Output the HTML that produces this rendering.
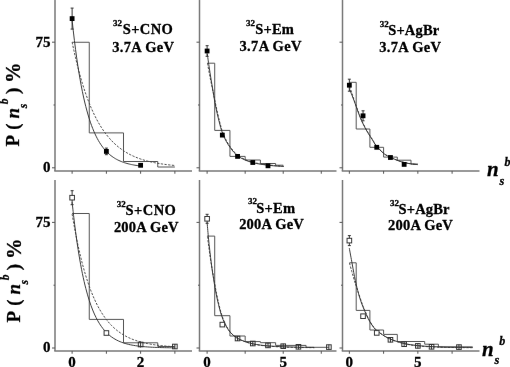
<!DOCTYPE html>
<html><head><meta charset="utf-8"><style>
html,body{margin:0;padding:0;background:#fff;width:510px;height:367px;overflow:hidden;}
svg{display:block;}
text{stroke:#000;stroke-width:0.3px;}
</style></head><body><svg width="510" height="367" viewBox="0 0 510 367"><defs><filter id="bl" filterUnits="userSpaceOnUse" x="0" y="0" width="510" height="367"><feConvolveMatrix order="3" kernelMatrix="0.00027 0.01580 0.00027 0.01580 0.93575 0.01580 0.00027 0.01580 0.00027" divisor="1" edgeMode="none"/></filter></defs><g filter="url(#bl)"><line x1="55.00" y1="0.00" x2="55.00" y2="170.95" stroke="#787878" stroke-width="1.5" /><line x1="54.25" y1="170.95" x2="192.00" y2="170.95" stroke="#787878" stroke-width="1.5" /><line x1="52.00" y1="167.80" x2="55.00" y2="167.80" stroke="#555" stroke-width="1.0" /><line x1="52.00" y1="42.18" x2="55.00" y2="42.18" stroke="#555" stroke-width="1.0" /><line x1="53.50" y1="104.99" x2="55.00" y2="104.99" stroke="#555" stroke-width="1.0" /><line x1="72.12" y1="170.95" x2="72.12" y2="173.75" stroke="#555" stroke-width="1.0" /><line x1="106.38" y1="170.95" x2="106.38" y2="173.75" stroke="#555" stroke-width="1.0" /><line x1="140.62" y1="170.95" x2="140.62" y2="173.75" stroke="#555" stroke-width="1.0" /><line x1="174.88" y1="170.95" x2="174.88" y2="173.75" stroke="#555" stroke-width="1.0" /><line x1="199.50" y1="0.00" x2="199.50" y2="170.95" stroke="#787878" stroke-width="1.5" /><line x1="198.75" y1="170.95" x2="336.50" y2="170.95" stroke="#787878" stroke-width="1.5" /><line x1="196.50" y1="167.80" x2="199.50" y2="167.80" stroke="#555" stroke-width="1.0" /><line x1="196.50" y1="42.18" x2="199.50" y2="42.18" stroke="#555" stroke-width="1.0" /><line x1="198.00" y1="104.99" x2="199.50" y2="104.99" stroke="#555" stroke-width="1.0" /><line x1="207.11" y1="170.95" x2="207.11" y2="173.75" stroke="#555" stroke-width="1.0" /><line x1="245.17" y1="170.95" x2="245.17" y2="173.75" stroke="#555" stroke-width="1.0" /><line x1="283.22" y1="170.95" x2="283.22" y2="173.75" stroke="#555" stroke-width="1.0" /><line x1="321.28" y1="170.95" x2="321.28" y2="173.75" stroke="#555" stroke-width="1.0" /><line x1="342.50" y1="0.00" x2="342.50" y2="170.95" stroke="#787878" stroke-width="1.5" /><line x1="341.75" y1="170.95" x2="479.50" y2="170.95" stroke="#787878" stroke-width="1.5" /><line x1="339.50" y1="167.80" x2="342.50" y2="167.80" stroke="#555" stroke-width="1.0" /><line x1="339.50" y1="42.18" x2="342.50" y2="42.18" stroke="#555" stroke-width="1.0" /><line x1="341.00" y1="104.99" x2="342.50" y2="104.99" stroke="#555" stroke-width="1.0" /><line x1="349.35" y1="170.95" x2="349.35" y2="173.75" stroke="#555" stroke-width="1.0" /><line x1="383.60" y1="170.95" x2="383.60" y2="173.75" stroke="#555" stroke-width="1.0" /><line x1="417.85" y1="170.95" x2="417.85" y2="173.75" stroke="#555" stroke-width="1.0" /><line x1="452.10" y1="170.95" x2="452.10" y2="173.75" stroke="#555" stroke-width="1.0" /><line x1="55.00" y1="180.00" x2="55.00" y2="350.95" stroke="#787878" stroke-width="1.5" /><line x1="54.25" y1="350.95" x2="192.00" y2="350.95" stroke="#787878" stroke-width="1.5" /><line x1="52.00" y1="348.00" x2="55.00" y2="348.00" stroke="#555" stroke-width="1.0" /><line x1="52.00" y1="222.38" x2="55.00" y2="222.38" stroke="#555" stroke-width="1.0" /><line x1="53.50" y1="285.19" x2="55.00" y2="285.19" stroke="#555" stroke-width="1.0" /><line x1="72.12" y1="350.95" x2="72.12" y2="353.75" stroke="#555" stroke-width="1.0" /><line x1="106.38" y1="350.95" x2="106.38" y2="353.75" stroke="#555" stroke-width="1.0" /><line x1="140.62" y1="350.95" x2="140.62" y2="353.75" stroke="#555" stroke-width="1.0" /><line x1="174.88" y1="350.95" x2="174.88" y2="353.75" stroke="#555" stroke-width="1.0" /><line x1="199.50" y1="180.00" x2="199.50" y2="350.95" stroke="#787878" stroke-width="1.5" /><line x1="198.75" y1="350.95" x2="336.50" y2="350.95" stroke="#787878" stroke-width="1.5" /><line x1="196.50" y1="348.00" x2="199.50" y2="348.00" stroke="#555" stroke-width="1.0" /><line x1="196.50" y1="222.38" x2="199.50" y2="222.38" stroke="#555" stroke-width="1.0" /><line x1="198.00" y1="285.19" x2="199.50" y2="285.19" stroke="#555" stroke-width="1.0" /><line x1="207.11" y1="350.95" x2="207.11" y2="353.75" stroke="#555" stroke-width="1.0" /><line x1="245.17" y1="350.95" x2="245.17" y2="353.75" stroke="#555" stroke-width="1.0" /><line x1="283.22" y1="350.95" x2="283.22" y2="353.75" stroke="#555" stroke-width="1.0" /><line x1="321.28" y1="350.95" x2="321.28" y2="353.75" stroke="#555" stroke-width="1.0" /><line x1="342.50" y1="180.00" x2="342.50" y2="350.95" stroke="#787878" stroke-width="1.5" /><line x1="341.75" y1="350.95" x2="479.50" y2="350.95" stroke="#787878" stroke-width="1.5" /><line x1="339.50" y1="348.00" x2="342.50" y2="348.00" stroke="#555" stroke-width="1.0" /><line x1="339.50" y1="222.38" x2="342.50" y2="222.38" stroke="#555" stroke-width="1.0" /><line x1="341.00" y1="285.19" x2="342.50" y2="285.19" stroke="#555" stroke-width="1.0" /><line x1="349.35" y1="350.95" x2="349.35" y2="353.75" stroke="#555" stroke-width="1.0" /><line x1="383.60" y1="350.95" x2="383.60" y2="353.75" stroke="#555" stroke-width="1.0" /><line x1="417.85" y1="350.95" x2="417.85" y2="353.75" stroke="#555" stroke-width="1.0" /><line x1="452.10" y1="350.95" x2="452.10" y2="353.75" stroke="#555" stroke-width="1.0" /><path d="M72.12,42.25 L89.25,42.25 L89.25,132.90 L123.50,132.90 L123.50,161.50 L157.75,161.50 L157.75,167.00 L174.88,167.00" fill="none" stroke="#555" stroke-width="1.0"/><path d="M72.12,42.18 C72.41,43.52 73.27,47.65 73.84,50.26 C74.41,52.86 74.98,55.38 75.55,57.82 C76.12,60.26 76.69,62.61 77.26,64.90 C77.83,67.18 78.40,69.38 78.97,71.52 C79.55,73.65 80.12,75.71 80.69,77.71 C81.26,79.71 81.83,81.64 82.40,83.51 C82.97,85.38 83.54,87.18 84.11,88.93 C84.68,90.68 85.25,92.37 85.83,94.00 C86.40,95.64 86.97,97.22 87.54,98.75 C88.11,100.28 88.68,101.76 89.25,103.19 C89.82,104.63 90.39,106.01 90.96,107.35 C91.53,108.69 92.10,109.99 92.68,111.24 C93.25,112.49 93.82,113.70 94.39,114.88 C94.96,116.05 95.53,117.19 96.10,118.28 C96.67,119.38 97.24,120.44 97.81,121.47 C98.38,122.50 98.95,123.49 99.53,124.45 C100.10,125.41 100.67,126.34 101.24,127.24 C101.81,128.14 102.38,129.01 102.95,129.85 C103.52,130.69 104.09,131.50 104.66,132.29 C105.23,133.08 105.80,133.84 106.38,134.58 C106.95,135.31 107.52,136.02 108.09,136.71 C108.66,137.40 109.23,138.07 109.80,138.71 C110.37,139.36 110.94,139.98 111.51,140.58 C112.08,141.19 112.65,141.77 113.22,142.34 C113.80,142.90 114.37,143.44 114.94,143.97 C115.51,144.50 116.08,145.01 116.65,145.51 C117.22,146.00 117.79,146.48 118.36,146.94 C118.93,147.40 119.50,147.85 120.08,148.28 C120.65,148.72 121.22,149.13 121.79,149.54 C122.36,149.94 122.93,150.33 123.50,150.71 C124.07,151.09 124.64,151.46 125.21,151.81 C125.78,152.17 126.35,152.51 126.92,152.84 C127.50,153.17 128.07,153.49 128.64,153.80 C129.21,154.11 129.78,154.41 130.35,154.70 C130.92,154.99 131.49,155.27 132.06,155.55 C132.63,155.82 133.20,156.08 133.77,156.33 C134.35,156.59 134.92,156.83 135.49,157.07 C136.06,157.31 136.63,157.54 137.20,157.76 C137.77,157.99 138.34,158.20 138.91,158.41 C139.48,158.62 140.05,158.82 140.62,159.01 C141.20,159.21 141.77,159.40 142.34,159.58 C142.91,159.76 143.48,159.94 144.05,160.11 C144.62,160.28 145.19,160.44 145.76,160.60 C146.33,160.76 146.90,160.92 147.48,161.07 C148.05,161.21 148.62,161.36 149.19,161.50 C149.76,161.64 150.33,161.77 150.90,161.90 C151.47,162.03 152.04,162.16 152.61,162.28 C153.18,162.41 153.75,162.52 154.32,162.64 C154.90,162.75 155.47,162.86 156.04,162.97 C156.61,163.08 157.18,163.18 157.75,163.28 C158.32,163.38 158.89,163.48 159.46,163.57 C160.03,163.67 160.60,163.76 161.18,163.84 C161.75,163.93 162.32,164.02 162.89,164.10 C163.46,164.18 164.03,164.26 164.60,164.34 C165.17,164.41 165.74,164.49 166.31,164.56 C166.88,164.63 167.45,164.70 168.02,164.77 C168.60,164.84 169.17,164.90 169.74,164.96 C170.31,165.03 170.88,165.09 171.45,165.15 C172.02,165.20 172.59,165.26 173.16,165.32 C173.73,165.37 174.59,165.45 174.88,165.48" fill="none" stroke="#444" stroke-width="0.95" stroke-dasharray="2.3,1.4"/><path d="M72.12,20.40 C72.32,22.14 72.89,27.47 73.27,30.82 C73.65,34.17 74.03,37.39 74.41,40.51 C74.79,43.62 75.17,46.61 75.55,49.51 C75.93,52.40 76.31,55.18 76.69,57.87 C77.07,60.56 77.45,63.15 77.83,65.65 C78.21,68.15 78.59,70.55 78.97,72.87 C79.36,75.19 79.74,77.42 80.12,79.58 C80.50,81.74 80.88,83.81 81.26,85.82 C81.64,87.83 82.02,89.75 82.40,91.62 C82.78,93.48 83.16,95.27 83.54,97.00 C83.92,98.74 84.30,100.40 84.68,102.01 C85.06,103.62 85.44,105.17 85.83,106.66 C86.21,108.16 86.59,109.59 86.97,110.98 C87.35,112.37 87.73,113.71 88.11,115.00 C88.49,116.29 88.87,117.53 89.25,118.73 C89.63,119.94 90.01,121.09 90.39,122.20 C90.77,123.32 91.15,124.39 91.53,125.43 C91.91,126.46 92.29,127.46 92.68,128.42 C93.06,129.39 93.44,130.31 93.82,131.21 C94.20,132.10 94.58,132.96 94.96,133.80 C95.34,134.63 95.72,135.43 96.10,136.20 C96.48,136.97 96.86,137.72 97.24,138.43 C97.62,139.15 98.00,139.84 98.38,140.51 C98.76,141.18 99.14,141.82 99.53,142.44 C99.91,143.06 100.29,143.66 100.67,144.23 C101.05,144.81 101.43,145.36 101.81,145.90 C102.19,146.44 102.57,146.95 102.95,147.45 C103.33,147.95 103.71,148.42 104.09,148.89 C104.47,149.35 104.85,149.79 105.23,150.22 C105.61,150.65 105.99,151.07 106.38,151.47 C106.76,151.87 107.14,152.25 107.52,152.62 C107.90,152.99 108.28,153.35 108.66,153.70 C109.04,154.04 109.42,154.37 109.80,154.69 C110.18,155.01 110.56,155.32 110.94,155.62 C111.32,155.92 111.70,156.20 112.08,156.48 C112.46,156.76 112.84,157.02 113.22,157.28 C113.61,157.54 113.99,157.79 114.37,158.03 C114.75,158.26 115.13,158.49 115.51,158.72 C115.89,158.94 116.27,159.15 116.65,159.36 C117.03,159.57 117.41,159.76 117.79,159.96 C118.17,160.15 118.55,160.33 118.93,160.51 C119.31,160.69 119.69,160.86 120.08,161.03 C120.46,161.19 120.84,161.35 121.22,161.50 C121.60,161.66 121.98,161.81 122.36,161.95 C122.74,162.09 123.12,162.23 123.50,162.36 C123.88,162.50 124.26,162.62 124.64,162.75 C125.02,162.87 125.40,162.99 125.78,163.11 C126.16,163.22 126.54,163.33 126.92,163.44 C127.31,163.54 127.69,163.65 128.07,163.75 C128.45,163.84 128.83,163.94 129.21,164.03 C129.59,164.12 129.97,164.21 130.35,164.30 C130.73,164.38 131.11,164.47 131.49,164.55 C131.87,164.63 132.25,164.70 132.63,164.78 C133.01,164.85 133.39,164.92 133.77,164.99 C134.16,165.06 134.54,165.12 134.92,165.19 C135.30,165.25 135.68,165.31 136.06,165.37 C136.44,165.43 136.82,165.49 137.20,165.54 C137.58,165.60 137.96,165.65 138.34,165.70 C138.72,165.76 139.10,165.80 139.48,165.85 C139.86,165.90 140.43,165.97 140.62,165.99" fill="none" stroke="#333" stroke-width="0.95"/><line x1="72.12" y1="8.10" x2="72.12" y2="29.10" stroke="#333" stroke-width="1.0" /><line x1="70.62" y1="8.10" x2="73.62" y2="8.10" stroke="#333" stroke-width="1.0" /><line x1="70.62" y1="29.10" x2="73.62" y2="29.10" stroke="#333" stroke-width="1.0" /><rect x="69.72" y="16.20" width="4.8" height="4.8" fill="#000"/><line x1="106.38" y1="148.10" x2="106.38" y2="154.70" stroke="#333" stroke-width="1.0" /><line x1="104.88" y1="148.10" x2="107.88" y2="148.10" stroke="#333" stroke-width="1.0" /><line x1="104.88" y1="154.70" x2="107.88" y2="154.70" stroke="#333" stroke-width="1.0" /><rect x="103.97" y="149.00" width="4.8" height="4.8" fill="#000"/><rect x="138.22" y="162.90" width="4.8" height="4.8" fill="#000"/><path d="M207.11,63.20 L214.72,63.20 L214.72,130.40 L229.94,130.40 L229.94,156.40 L245.17,156.40 L245.17,160.00 L260.39,160.00 L260.39,163.50 L275.61,163.50 L275.61,165.20 L283.22,165.20" fill="none" stroke="#555" stroke-width="1.0"/><path d="M207.50,63.30 C207.92,65.58 209.17,72.72 210.00,77.00 C210.83,81.28 211.67,85.00 212.50,89.00 C213.33,93.00 214.15,96.97 215.00,101.00 C215.85,105.03 216.78,109.58 217.60,113.20 C218.42,116.82 219.10,119.65 219.90,122.70 C220.70,125.75 221.30,128.48 222.40,131.50 C223.50,134.52 224.98,137.97 226.50,140.80 C228.02,143.63 229.68,146.12 231.50,148.50 C233.32,150.88 235.08,153.23 237.40,155.10 C239.72,156.97 242.73,158.48 245.40,159.70 C248.07,160.92 250.82,161.70 253.40,162.40 C255.98,163.10 258.33,163.47 260.90,163.90 C263.47,164.33 266.22,164.70 268.80,165.00 C271.38,165.30 273.87,165.50 276.40,165.70 C278.93,165.90 282.73,166.12 284.00,166.20" fill="none" stroke="#444" stroke-width="0.95" stroke-dasharray="2.3,1.4"/><path d="M207.30,54.00 C207.58,56.00 208.38,61.83 209.00,66.00 C209.62,70.17 210.33,74.83 211.00,79.00 C211.67,83.17 212.33,87.00 213.00,91.00 C213.67,95.00 214.30,99.25 215.00,103.00 C215.70,106.75 216.45,110.17 217.20,113.50 C217.95,116.83 218.70,119.95 219.50,123.00 C220.30,126.05 220.90,128.78 222.00,131.80 C223.10,134.82 224.58,138.27 226.10,141.10 C227.62,143.93 229.28,146.42 231.10,148.80 C232.92,151.18 234.68,153.53 237.00,155.40 C239.32,157.27 242.33,158.78 245.00,160.00 C247.67,161.22 250.42,162.00 253.00,162.70 C255.58,163.40 257.93,163.77 260.50,164.20 C263.07,164.63 265.82,165.00 268.40,165.30 C270.98,165.60 273.47,165.80 276.00,166.00 C278.53,166.20 282.33,166.42 283.60,166.50" fill="none" stroke="#333" stroke-width="0.95"/><line x1="207.11" y1="45.70" x2="207.11" y2="56.30" stroke="#333" stroke-width="1.0" /><line x1="205.61" y1="45.70" x2="208.61" y2="45.70" stroke="#333" stroke-width="1.0" /><line x1="205.61" y1="56.30" x2="208.61" y2="56.30" stroke="#333" stroke-width="1.0" /><rect x="204.71" y="48.60" width="4.8" height="4.8" fill="#000"/><rect x="219.93" y="132.70" width="4.8" height="4.8" fill="#000"/><rect x="235.16" y="154.00" width="4.8" height="4.8" fill="#000"/><rect x="250.38" y="160.10" width="4.8" height="4.8" fill="#000"/><rect x="265.60" y="163.40" width="4.8" height="4.8" fill="#000"/><path d="M349.35,82.30 L356.20,82.30 L356.20,129.00 L369.90,129.00 L369.90,147.30 L383.60,147.30 L383.60,157.10 L397.30,157.10 L397.30,160.20 L411.00,160.20 L411.00,164.00 L417.85,164.00" fill="none" stroke="#555" stroke-width="1.0"/><path d="M349.60,86.50 C350.00,87.67 351.22,91.17 352.00,93.50 C352.78,95.83 353.00,96.80 354.30,100.50 C355.60,104.20 358.30,111.82 359.80,115.70 C361.30,119.58 361.93,121.00 363.30,123.80 C364.67,126.60 366.43,129.83 368.00,132.50 C369.57,135.17 371.27,137.55 372.70,139.80 C374.13,142.05 374.68,143.70 376.60,146.00 C378.52,148.30 381.92,151.73 384.20,153.60 C386.48,155.47 388.15,156.10 390.30,157.20 C392.45,158.30 394.77,159.32 397.10,160.20 C399.43,161.08 402.02,161.90 404.30,162.50 C406.58,163.10 408.57,163.45 410.80,163.80 C413.03,164.15 416.55,164.47 417.70,164.60" fill="none" stroke="#444" stroke-width="0.95" stroke-dasharray="2.3,1.4"/><path d="M349.30,88.50 C350.08,90.50 352.30,95.97 354.00,100.50 C355.70,105.03 358.00,111.82 359.50,115.70 C361.00,119.58 361.63,121.00 363.00,123.80 C364.37,126.60 366.13,129.83 367.70,132.50 C369.27,135.17 370.97,137.55 372.40,139.80 C373.83,142.05 374.38,143.70 376.30,146.00 C378.22,148.30 381.62,151.73 383.90,153.60 C386.18,155.47 387.85,156.10 390.00,157.20 C392.15,158.30 394.47,159.32 396.80,160.20 C399.13,161.08 401.72,161.90 404.00,162.50 C406.28,163.10 408.27,163.45 410.50,163.80 C412.73,164.15 416.25,164.47 417.40,164.60" fill="none" stroke="#333" stroke-width="0.95"/><line x1="349.35" y1="79.20" x2="349.35" y2="91.20" stroke="#333" stroke-width="1.0" /><line x1="347.85" y1="79.20" x2="350.85" y2="79.20" stroke="#333" stroke-width="1.0" /><line x1="347.85" y1="91.20" x2="350.85" y2="91.20" stroke="#333" stroke-width="1.0" /><rect x="346.95" y="82.80" width="4.8" height="4.8" fill="#000"/><line x1="363.05" y1="110.80" x2="363.05" y2="120.80" stroke="#333" stroke-width="1.0" /><line x1="361.55" y1="110.80" x2="364.55" y2="110.80" stroke="#333" stroke-width="1.0" /><line x1="361.55" y1="120.80" x2="364.55" y2="120.80" stroke="#333" stroke-width="1.0" /><rect x="360.65" y="113.40" width="4.8" height="4.8" fill="#000"/><rect x="374.35" y="144.90" width="4.8" height="4.8" fill="#000"/><rect x="388.05" y="155.10" width="4.8" height="4.8" fill="#000"/><rect x="401.75" y="162.00" width="4.8" height="4.8" fill="#000"/><path d="M72.12,213.50 L89.25,213.50 L89.25,319.40 L123.50,319.40 L123.50,342.80 L157.75,342.80 L157.75,346.50 L174.88,346.50" fill="none" stroke="#555" stroke-width="1.0"/><path d="M72.12,214.00 C72.41,215.67 73.27,220.79 73.84,223.99 C74.41,227.20 74.98,230.27 75.55,233.24 C76.12,236.21 76.69,239.05 77.26,241.80 C77.83,244.54 78.40,247.18 78.97,249.72 C79.55,252.26 80.12,254.70 80.69,257.05 C81.26,259.40 81.83,261.65 82.40,263.83 C82.97,266.01 83.54,268.09 84.11,270.11 C84.68,272.12 85.25,274.05 85.83,275.92 C86.40,277.78 86.97,279.57 87.54,281.29 C88.11,283.02 88.68,284.67 89.25,286.27 C89.82,287.86 90.39,289.39 90.96,290.87 C91.53,292.35 92.10,293.76 92.68,295.13 C93.25,296.50 93.82,297.81 94.39,299.07 C94.96,300.34 95.53,301.55 96.10,302.72 C96.67,303.89 97.24,305.01 97.81,306.10 C98.38,307.18 98.95,308.22 99.53,309.22 C100.10,310.23 100.67,311.19 101.24,312.11 C101.81,313.04 102.38,313.93 102.95,314.79 C103.52,315.65 104.09,316.47 104.66,317.27 C105.23,318.06 105.80,318.82 106.38,319.56 C106.95,320.29 107.52,321.00 108.09,321.68 C108.66,322.36 109.23,323.01 109.80,323.64 C110.37,324.27 110.94,324.88 111.51,325.46 C112.08,326.04 112.65,326.60 113.22,327.14 C113.80,327.68 114.37,328.20 114.94,328.70 C115.51,329.19 116.08,329.67 116.65,330.14 C117.22,330.60 117.79,331.04 118.36,331.47 C118.93,331.89 119.50,332.30 120.08,332.70 C120.65,333.10 121.22,333.48 121.79,333.84 C122.36,334.21 122.93,334.56 123.50,334.90 C124.07,335.24 124.64,335.56 125.21,335.87 C125.78,336.19 126.35,336.49 126.92,336.78 C127.50,337.07 128.07,337.35 128.64,337.62 C129.21,337.88 129.78,338.14 130.35,338.39 C130.92,338.64 131.49,338.88 132.06,339.11 C132.63,339.34 133.20,339.56 133.77,339.77 C134.35,339.98 134.92,340.19 135.49,340.38 C136.06,340.58 136.63,340.77 137.20,340.95 C137.77,341.13 138.34,341.31 138.91,341.48 C139.48,341.65 140.05,341.81 140.62,341.96 C141.20,342.12 141.77,342.27 142.34,342.41 C142.91,342.56 143.48,342.70 144.05,342.83 C144.62,342.96 145.19,343.09 145.76,343.22 C146.33,343.34 146.90,343.46 147.48,343.57 C148.05,343.69 148.62,343.80 149.19,343.90 C149.76,344.01 150.33,344.11 150.90,344.21 C151.47,344.31 152.04,344.40 152.61,344.49 C153.18,344.58 153.75,344.67 154.32,344.75 C154.90,344.84 155.47,344.92 156.04,344.99 C156.61,345.07 157.18,345.15 157.75,345.22 C158.32,345.29 158.89,345.36 159.46,345.43 C160.03,345.49 160.60,345.56 161.18,345.62 C161.75,345.68 162.32,345.74 162.89,345.80 C163.46,345.85 164.03,345.91 164.60,345.96 C165.17,346.01 165.74,346.06 166.31,346.11 C166.88,346.16 167.45,346.21 168.02,346.25 C168.60,346.30 169.17,346.34 169.74,346.38 C170.31,346.43 170.88,346.47 171.45,346.50 C172.02,346.54 172.59,346.58 173.16,346.62 C173.73,346.65 174.59,346.70 174.88,346.72" fill="none" stroke="#444" stroke-width="0.95" stroke-dasharray="2.3,1.4"/><path d="M72.12,202.28 C72.41,204.85 73.27,212.84 73.84,217.72 C74.41,222.59 74.98,227.16 75.55,231.52 C76.12,235.88 76.69,239.97 77.26,243.86 C77.83,247.76 78.40,251.41 78.97,254.90 C79.55,258.38 80.12,261.65 80.69,264.76 C81.26,267.87 81.83,270.80 82.40,273.58 C82.97,276.36 83.54,278.98 84.11,281.47 C84.68,283.95 85.25,286.29 85.83,288.52 C86.40,290.74 86.97,292.83 87.54,294.82 C88.11,296.81 88.68,298.67 89.25,300.45 C89.82,302.23 90.39,303.90 90.96,305.49 C91.53,307.08 92.10,308.57 92.68,309.99 C93.25,311.42 93.82,312.75 94.39,314.02 C94.96,315.29 95.53,316.49 96.10,317.62 C96.67,318.76 97.24,319.82 97.81,320.84 C98.38,321.86 98.95,322.81 99.53,323.72 C100.10,324.63 100.67,325.48 101.24,326.29 C101.81,327.10 102.38,327.87 102.95,328.59 C103.52,329.32 104.09,330.00 104.66,330.65 C105.23,331.30 105.80,331.91 106.38,332.49 C106.95,333.07 107.52,333.61 108.09,334.13 C108.66,334.65 109.23,335.14 109.80,335.60 C110.37,336.06 110.94,336.50 111.51,336.91 C112.08,337.33 112.65,337.72 113.22,338.09 C113.80,338.46 114.37,338.81 114.94,339.14 C115.51,339.47 116.08,339.78 116.65,340.08 C117.22,340.37 117.79,340.65 118.36,340.92 C118.93,341.18 119.50,341.43 120.08,341.67 C120.65,341.90 121.22,342.13 121.79,342.34 C122.36,342.55 122.93,342.75 123.50,342.94 C124.07,343.13 124.64,343.31 125.21,343.47 C125.78,343.64 126.35,343.80 126.92,343.95 C127.50,344.11 128.07,344.25 128.64,344.38 C129.21,344.52 129.78,344.65 130.35,344.77 C130.92,344.89 131.49,345.00 132.06,345.11 C132.63,345.22 133.20,345.32 133.77,345.42 C134.35,345.51 134.92,345.60 135.49,345.69 C136.06,345.78 136.63,345.86 137.20,345.93 C137.77,346.01 138.34,346.08 138.91,346.15 C139.48,346.22 140.05,346.29 140.62,346.35 C141.20,346.41 141.77,346.47 142.34,346.52 C142.91,346.58 143.48,346.63 144.05,346.68 C144.62,346.73 145.19,346.78 145.76,346.82 C146.33,346.86 146.90,346.91 147.48,346.94 C148.05,346.98 148.62,347.02 149.19,347.06 C149.76,347.09 150.33,347.13 150.90,347.16 C151.47,347.19 152.04,347.22 152.61,347.25 C153.18,347.27 153.75,347.30 154.32,347.33 C154.90,347.35 155.47,347.37 156.04,347.40 C156.61,347.42 157.18,347.44 157.75,347.46 C158.32,347.48 158.89,347.50 159.46,347.52 C160.03,347.54 160.60,347.55 161.18,347.57 C161.75,347.59 162.32,347.60 162.89,347.61 C163.46,347.63 164.03,347.64 164.60,347.66 C165.17,347.67 165.74,347.68 166.31,347.69 C166.88,347.70 167.45,347.71 168.02,347.72 C168.60,347.74 169.17,347.74 169.74,347.75 C170.31,347.76 170.88,347.77 171.45,347.78 C172.02,347.79 172.59,347.80 173.16,347.80 C173.73,347.81 174.59,347.82 174.88,347.82" fill="none" stroke="#333" stroke-width="0.95"/><line x1="72.12" y1="190.70" x2="72.12" y2="204.70" stroke="#333" stroke-width="1.0" /><line x1="70.62" y1="190.70" x2="73.62" y2="190.70" stroke="#333" stroke-width="1.0" /><line x1="70.62" y1="204.70" x2="73.62" y2="204.70" stroke="#333" stroke-width="1.0" /><rect x="69.83" y="195.40" width="4.60" height="4.60" fill="#fff" stroke="#333" stroke-width="1"/><rect x="104.08" y="330.70" width="4.60" height="4.60" fill="#fff" stroke="#333" stroke-width="1"/><line x1="140.62" y1="341.50" x2="140.62" y2="347.50" stroke="#333" stroke-width="1.0" /><rect x="138.32" y="342.20" width="4.60" height="4.60" fill="none" stroke="#333" stroke-width="1"/><line x1="174.88" y1="344.00" x2="174.88" y2="349.00" stroke="#333" stroke-width="1.0" /><rect x="172.57" y="344.20" width="4.60" height="4.60" fill="none" stroke="#333" stroke-width="1"/><path d="M207.11,236.10 L214.72,236.10 L214.72,315.70 L229.94,315.70 L229.94,336.00 L245.17,336.00 L245.17,341.60 L260.39,341.60 L260.39,342.70 L275.61,342.70 L275.61,345.40 L306.06,345.40 L306.06,347.30 L328.89,347.30" fill="none" stroke="#555" stroke-width="1.0"/><path d="M207.40,236.60 C207.62,238.17 208.17,242.10 208.70,246.00 C209.23,249.90 209.85,255.17 210.60,260.00 C211.35,264.83 212.22,269.45 213.20,275.00 C214.18,280.55 215.53,288.33 216.50,293.30 C217.47,298.27 218.12,301.17 219.00,304.80 C219.88,308.43 220.70,311.82 221.80,315.10 C222.90,318.38 224.17,321.65 225.60,324.50 C227.03,327.35 228.48,329.93 230.40,332.20 C232.32,334.47 234.58,336.48 237.10,338.10 C239.62,339.72 242.77,340.90 245.50,341.90 C248.23,342.90 250.92,343.52 253.50,344.10 C256.08,344.68 258.43,345.05 261.00,345.40 C263.57,345.75 265.05,345.92 268.90,346.20 C272.75,346.48 279.00,346.88 284.10,347.10 C289.20,347.32 294.43,347.40 299.50,347.50 C304.57,347.60 312.00,347.67 314.50,347.70" fill="none" stroke="#444" stroke-width="0.95" stroke-dasharray="2.3,1.4"/><path d="M207.10,222.40 C207.30,224.70 207.90,231.93 208.30,236.20 C208.70,240.47 208.92,242.87 209.50,248.00 C210.08,253.13 211.13,261.92 211.80,267.00 C212.47,272.08 212.80,274.17 213.50,278.50 C214.20,282.83 215.17,288.67 216.00,293.00 C216.83,297.33 217.62,300.87 218.50,304.50 C219.38,308.13 220.20,311.52 221.30,314.80 C222.40,318.08 223.67,321.35 225.10,324.20 C226.53,327.05 227.98,329.63 229.90,331.90 C231.82,334.17 234.08,336.18 236.60,337.80 C239.12,339.42 242.27,340.60 245.00,341.60 C247.73,342.60 250.42,343.22 253.00,343.80 C255.58,344.38 257.93,344.75 260.50,345.10 C263.07,345.45 264.55,345.62 268.40,345.90 C272.25,346.18 278.50,346.58 283.60,346.80 C288.70,347.02 293.93,347.10 299.00,347.20 C304.07,347.30 311.50,347.37 314.00,347.40" fill="none" stroke="#333" stroke-width="0.95"/><line x1="207.11" y1="214.30" x2="207.11" y2="223.30" stroke="#333" stroke-width="1.0" /><line x1="205.61" y1="214.30" x2="208.61" y2="214.30" stroke="#333" stroke-width="1.0" /><line x1="205.61" y1="223.30" x2="208.61" y2="223.30" stroke="#333" stroke-width="1.0" /><rect x="204.81" y="216.50" width="4.60" height="4.60" fill="#fff" stroke="#333" stroke-width="1"/><rect x="220.03" y="322.30" width="4.60" height="4.60" fill="#fff" stroke="#333" stroke-width="1"/><line x1="237.56" y1="336.00" x2="237.56" y2="341.00" stroke="#333" stroke-width="1.0" /><rect x="235.26" y="336.20" width="4.60" height="4.60" fill="none" stroke="#333" stroke-width="1"/><line x1="252.78" y1="341.00" x2="252.78" y2="346.00" stroke="#333" stroke-width="1.0" /><rect x="250.48" y="341.20" width="4.60" height="4.60" fill="none" stroke="#333" stroke-width="1"/><line x1="268.00" y1="342.90" x2="268.00" y2="347.90" stroke="#333" stroke-width="1.0" /><rect x="265.70" y="343.10" width="4.60" height="4.60" fill="none" stroke="#333" stroke-width="1"/><line x1="283.22" y1="343.70" x2="283.22" y2="348.70" stroke="#333" stroke-width="1.0" /><rect x="280.92" y="343.90" width="4.60" height="4.60" fill="none" stroke="#333" stroke-width="1"/><line x1="298.44" y1="344.30" x2="298.44" y2="349.30" stroke="#333" stroke-width="1.0" /><rect x="296.14" y="344.50" width="4.60" height="4.60" fill="none" stroke="#333" stroke-width="1"/><line x1="328.89" y1="344.60" x2="328.89" y2="349.60" stroke="#333" stroke-width="1.0" /><rect x="326.59" y="344.80" width="4.60" height="4.60" fill="none" stroke="#333" stroke-width="1"/><path d="M349.35,262.80 L356.20,262.80 L356.20,310.40 L369.90,310.40 L369.90,330.00 L383.60,330.00 L383.60,334.40 L397.30,334.40 L397.30,341.50 L424.70,341.50 L424.70,344.20 L438.40,344.20 L438.40,346.90 L472.65,346.90" fill="none" stroke="#555" stroke-width="1.0"/><path d="M349.50,263.00 C349.88,264.42 351.03,268.75 351.80,271.50 C352.57,274.25 353.30,276.83 354.10,279.50 C354.90,282.17 355.28,283.53 356.60,287.50 C357.92,291.47 360.60,299.42 362.00,303.30 C363.40,307.18 363.82,308.05 365.00,310.80 C366.18,313.55 367.52,316.92 369.10,319.80 C370.68,322.68 372.57,325.82 374.50,328.10 C376.43,330.38 378.08,331.67 380.70,333.50 C383.32,335.33 386.23,337.38 390.20,339.10 C394.17,340.82 399.82,342.67 404.50,343.80 C409.18,344.93 413.72,345.38 418.30,345.90 C422.88,346.42 427.47,346.65 432.00,346.90 C436.53,347.15 440.95,347.28 445.50,347.40 C450.05,347.52 454.70,347.55 459.30,347.60 C463.90,347.65 470.80,347.68 473.10,347.70" fill="none" stroke="#444" stroke-width="0.95" stroke-dasharray="2.3,1.4"/><path d="M349.30,248.20 C349.78,250.83 351.20,258.62 352.20,264.00 C353.20,269.38 354.25,275.58 355.30,280.50 C356.35,285.42 357.47,289.75 358.50,293.50 C359.53,297.25 360.50,300.17 361.50,303.00 C362.50,305.83 363.32,307.75 364.50,310.50 C365.68,313.25 367.02,316.62 368.60,319.50 C370.18,322.38 372.07,325.52 374.00,327.80 C375.93,330.08 377.58,331.37 380.20,333.20 C382.82,335.03 385.73,337.08 389.70,338.80 C393.67,340.52 399.32,342.37 404.00,343.50 C408.68,344.63 413.22,345.08 417.80,345.60 C422.38,346.12 426.97,346.35 431.50,346.60 C436.03,346.85 440.45,346.98 445.00,347.10 C449.55,347.22 454.20,347.25 458.80,347.30 C463.40,347.35 470.30,347.38 472.60,347.40" fill="none" stroke="#333" stroke-width="0.95"/><line x1="349.35" y1="235.60" x2="349.35" y2="245.60" stroke="#333" stroke-width="1.0" /><line x1="347.85" y1="235.60" x2="350.85" y2="235.60" stroke="#333" stroke-width="1.0" /><line x1="347.85" y1="245.60" x2="350.85" y2="245.60" stroke="#333" stroke-width="1.0" /><rect x="347.05" y="238.30" width="4.60" height="4.60" fill="#fff" stroke="#333" stroke-width="1"/><rect x="360.75" y="313.90" width="4.60" height="4.60" fill="#fff" stroke="#333" stroke-width="1"/><rect x="374.45" y="330.60" width="4.60" height="4.60" fill="#fff" stroke="#333" stroke-width="1"/><line x1="390.45" y1="337.30" x2="390.45" y2="342.30" stroke="#333" stroke-width="1.0" /><rect x="388.15" y="337.50" width="4.60" height="4.60" fill="none" stroke="#333" stroke-width="1"/><line x1="404.15" y1="341.70" x2="404.15" y2="346.70" stroke="#333" stroke-width="1.0" /><rect x="401.85" y="341.90" width="4.60" height="4.60" fill="none" stroke="#333" stroke-width="1"/><line x1="417.85" y1="343.40" x2="417.85" y2="348.40" stroke="#333" stroke-width="1.0" /><rect x="415.55" y="343.60" width="4.60" height="4.60" fill="none" stroke="#333" stroke-width="1"/><line x1="431.55" y1="344.30" x2="431.55" y2="349.30" stroke="#333" stroke-width="1.0" /><rect x="429.25" y="344.50" width="4.60" height="4.60" fill="none" stroke="#333" stroke-width="1"/><line x1="458.95" y1="344.60" x2="458.95" y2="349.60" stroke="#333" stroke-width="1.0" /><rect x="456.65" y="344.80" width="4.60" height="4.60" fill="none" stroke="#333" stroke-width="1"/><text x="50.60" y="46.80" font-family="Liberation Serif" font-weight="bold" font-size="15" text-anchor="end" >75</text><text x="50.60" y="172.00" font-family="Liberation Serif" font-weight="bold" font-size="15" text-anchor="end" >0</text><text x="50.60" y="226.80" font-family="Liberation Serif" font-weight="bold" font-size="15" text-anchor="end" >75</text><text x="50.60" y="352.00" font-family="Liberation Serif" font-weight="bold" font-size="15" text-anchor="end" >0</text><text x="72.12" y="366.80" font-family="Liberation Serif" font-weight="bold" font-size="15" text-anchor="middle" >0</text><text x="140.62" y="366.80" font-family="Liberation Serif" font-weight="bold" font-size="15" text-anchor="middle" >2</text><text x="207.11" y="366.80" font-family="Liberation Serif" font-weight="bold" font-size="15" text-anchor="middle" >0</text><text x="283.22" y="366.80" font-family="Liberation Serif" font-weight="bold" font-size="15" text-anchor="middle" >5</text><text x="349.35" y="366.80" font-family="Liberation Serif" font-weight="bold" font-size="15" text-anchor="middle" >0</text><text x="417.85" y="366.80" font-family="Liberation Serif" font-weight="bold" font-size="15" text-anchor="middle" >5</text><text x="113.12" y="25.94" font-family="Liberation Serif" font-weight="bold" font-size="9.0" >32</text><text x="122.68" y="33.79" font-family="Liberation Serif" font-weight="bold" font-size="14.5" textLength="50.20" lengthAdjust="spacing" >S+CNO</text><text x="112.13" y="51.90" font-family="Liberation Serif" font-weight="bold" font-size="14.5" textLength="61.90" lengthAdjust="spacing" >3.7A GeV</text><text x="245.97" y="25.75" font-family="Liberation Serif" font-weight="bold" font-size="9.0" >32</text><text x="255.15" y="33.79" font-family="Liberation Serif" font-weight="bold" font-size="14.5" textLength="38.80" lengthAdjust="spacing" >S+Em</text><text x="239.53" y="50.80" font-family="Liberation Serif" font-weight="bold" font-size="14.5" textLength="61.90" lengthAdjust="spacing" >3.7A GeV</text><text x="379.78" y="26.73" font-family="Liberation Serif" font-weight="bold" font-size="9.0" >32</text><text x="388.14" y="34.79" font-family="Liberation Serif" font-weight="bold" font-size="14.5" textLength="51.10" lengthAdjust="spacing" >S+AgBr</text><text x="379.15" y="51.80" font-family="Liberation Serif" font-weight="bold" font-size="14.5" textLength="61.90" lengthAdjust="spacing" >3.7A GeV</text><text x="116.87" y="206.85" font-family="Liberation Serif" font-weight="bold" font-size="9.0" >32</text><text x="125.61" y="214.79" font-family="Liberation Serif" font-weight="bold" font-size="14.5" textLength="50.20" lengthAdjust="spacing" >S+CNO</text><text x="113.88" y="231.70" font-family="Liberation Serif" font-weight="bold" font-size="14.5" textLength="64.70" lengthAdjust="spacing" >200A GeV</text><text x="247.88" y="203.83" font-family="Liberation Serif" font-weight="bold" font-size="9.0" >32</text><text x="256.17" y="212.79" font-family="Liberation Serif" font-weight="bold" font-size="14.5" textLength="38.80" lengthAdjust="spacing" >S+Em</text><text x="239.13" y="228.90" font-family="Liberation Serif" font-weight="bold" font-size="14.5" textLength="64.70" lengthAdjust="spacing" >200A GeV</text><text x="389.88" y="205.83" font-family="Liberation Serif" font-weight="bold" font-size="9.0" >32</text><text x="398.43" y="213.79" font-family="Liberation Serif" font-weight="bold" font-size="14.5" textLength="51.10" lengthAdjust="spacing" >S+AgBr</text><text x="388.10" y="229.90" font-family="Liberation Serif" font-weight="bold" font-size="14.5" textLength="64.70" lengthAdjust="spacing" >200A GeV</text><text x="486.91" y="175.70" font-family="Liberation Serif" font-weight="bold" font-style="italic" font-size="21" >n</text><text x="499.38" y="184.53" font-family="Liberation Serif" font-weight="bold" font-style="italic" font-size="12.5" >s</text><text x="504.44" y="165.74" font-family="Liberation Serif" font-weight="bold" font-style="italic" font-size="12" >b</text><text x="482.03" y="355.70" font-family="Liberation Serif" font-weight="bold" font-style="italic" font-size="21" >n</text><text x="494.39" y="363.58" font-family="Liberation Serif" font-weight="bold" font-style="italic" font-size="12.5" >s</text><text x="499.25" y="344.90" font-family="Liberation Serif" font-weight="bold" font-style="italic" font-size="12" >b</text><g transform="translate(18.61,146.49) rotate(-90)"><text x="0" y="0" font-family="Liberation Serif" font-weight="bold" font-size="19">P</text></g><g transform="translate(19.91,322.59) rotate(-90)"><text x="0" y="0" font-family="Liberation Serif" font-weight="bold" font-size="19">P</text></g><g transform="translate(18.91,129.70) rotate(-90)"><text x="0" y="0" font-family="Liberation Serif" font-weight="bold" font-size="19">(</text></g><g transform="translate(20.21,305.80) rotate(-90)"><text x="0" y="0" font-family="Liberation Serif" font-weight="bold" font-size="19">(</text></g><g transform="translate(18.60,118.38) rotate(-90)"><text x="0" y="0" font-family="Liberation Serif" font-weight="bold" font-style="italic" font-size="19">n</text></g><g transform="translate(19.90,294.48) rotate(-90)"><text x="0" y="0" font-family="Liberation Serif" font-weight="bold" font-style="italic" font-size="19">n</text></g><g transform="translate(26.98,108.31) rotate(-90)"><text x="0" y="0" font-family="Liberation Serif" font-weight="bold" font-style="italic" font-size="11.5">s</text></g><g transform="translate(28.28,284.41) rotate(-90)"><text x="0" y="0" font-family="Liberation Serif" font-weight="bold" font-style="italic" font-size="11.5">s</text></g><g transform="translate(7.69,104.27) rotate(-90)"><text x="0" y="0" font-family="Liberation Serif" font-weight="bold" font-style="italic" font-size="11.5">b</text></g><g transform="translate(8.99,280.37) rotate(-90)"><text x="0" y="0" font-family="Liberation Serif" font-weight="bold" font-style="italic" font-size="11.5">b</text></g><g transform="translate(18.80,94.09) rotate(-90)"><text x="0" y="0" font-family="Liberation Serif" font-weight="bold" font-size="19">)</text></g><g transform="translate(20.10,270.19) rotate(-90)"><text x="0" y="0" font-family="Liberation Serif" font-weight="bold" font-size="19">)</text></g><g transform="translate(19.51,82.90) rotate(-90)"><text x="0" y="0" font-family="Liberation Serif" font-weight="bold" font-size="20.5">%</text></g><g transform="translate(20.81,259.00) rotate(-90)"><text x="0" y="0" font-family="Liberation Serif" font-weight="bold" font-size="20.5">%</text></g></g></svg></body></html>
